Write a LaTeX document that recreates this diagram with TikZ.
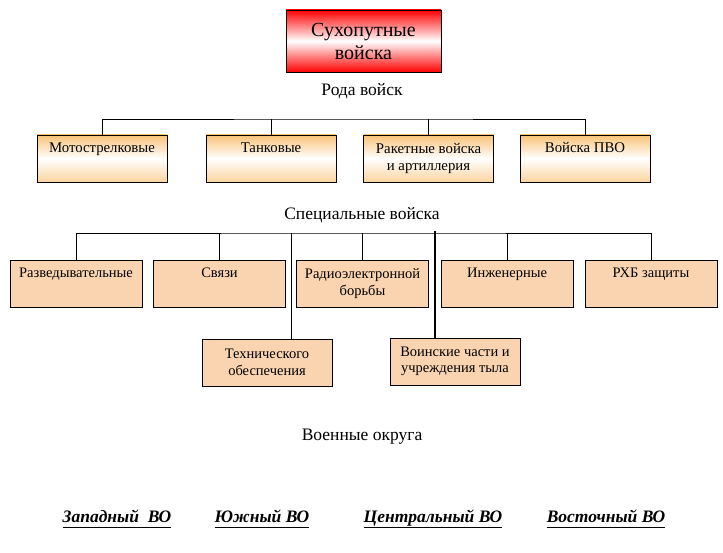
\documentclass[tikz,border=0pt]{standalone}
\usepackage{fontspec}
\setmainfont{Liberation Serif}

\definecolor{peach}{RGB}{250,212,176}
\definecolor{apricot}{RGB}{249,194,118}

\tikzset{
  head/.style={draw, minimum width=155pt, minimum height=62pt, top color=red,
    bottom color=red, middle color=white, align=center,
    font=\fontsize{20}{23}\selectfont},
  kind/.style={draw, minimum width=130pt, minimum height=47pt, top color=apricot,
    bottom color=apricot!70, middle color=white, align=center,
    font=\fontsize{14.8}{16.5}\selectfont},
  special/.style={draw, line width=0.9pt, fill=peach, minimum width=132pt,
    minimum height=47pt, align=center, font=\fontsize{14.5}{16.5}\selectfont},
  caption/.style={font=\fontsize{17.5}{20}\selectfont},
  district/.style={anchor=base, font=\fontsize{17.5}{20}\selectfont\bfseries\itshape},
  link/.style={line width=0.8pt},
}

\begin{document}
\begin{tikzpicture}[x=1pt, y=-1pt]
  \useasboundingbox (0,0) rectangle (723,553);
  % The head of the chart.
  \node[head] (land) at (363.5,41) {Сухопутные\\войска};
  \node[caption] (rody) at (362,91) {Рода войск};
  % The arms.
  \node[kind] (mot) at (102,158.5) {Мотострелковые\\\strut};
  \node[kind] (tank) at (271,158.5) {Танковые\\\strut};
  \node[kind] (rak) at (428.5,158.5) {Ракетные войска\\и артиллерия};
  \node[kind] (pvo) at (585,158.5) {Войска ПВО\\\strut};
  \coordinate (r1) at (363,119);
  \draw[link] (mot.north) |- (r1) -| (pvo.north);
  \foreach \n in {tank,rak} \draw[link] (\n.north) -- (\n.north |- r1);
  % The special troops.
  \node[caption] (spec) at (362,215) {Специальные войска};
  \node[special] (razv) at (76,283.5) {Разведывательные\\\strut};
  \node[special] (svyaz) at (219.5,283.5) {Связи\\\strut};
  \node[special] (reb) at (362.5,283.5) {Радиоэлектронной\\борьбы};
  \node[special] (inzh) at (507,283.5) {Инженерные\\\strut};
  \node[special] (rhb) at (651,283.5) {РХБ защиты\\\strut};
  \node[special, minimum width=130pt] (tech) at (267,362.5) {Технического\\обеспечения};
  \node[special, minimum width=130pt] (tyl) at (455,361.5) {Воинские части и\\учреждения тыла};
  \coordinate (r2) at (363,233);
  \draw[link] (razv.north) |- (r2) -| (rhb.north);
  \foreach \n in {svyaz,reb,inzh} \draw[link] (\n.north) -- (\n.north |- r2);
  \coordinate (t2) at (291,233);
  \draw[link] (t2) -- (t2 |- tech.north);
  \coordinate (y2) at (435,231);
  \draw[line width=2pt] (y2) -- (y2 |- tyl.north);
  % The military districts.
  \node[caption] (okr) at (362,437) {Военные округа};
  \node[district] (west) at (117,522) {\underline{Западный\ \ ВО\vphantom{р}}};
  \node[district] (south) at (262,522) {\underline{Южный ВО\vphantom{р}}};
  \node[district] (centre) at (433,522) {\underline{Центральный ВО\vphantom{р}}};
  \node[district] (east) at (606,522) {\underline{Восточный ВО\vphantom{р}}};
\end{tikzpicture}
\end{document}
